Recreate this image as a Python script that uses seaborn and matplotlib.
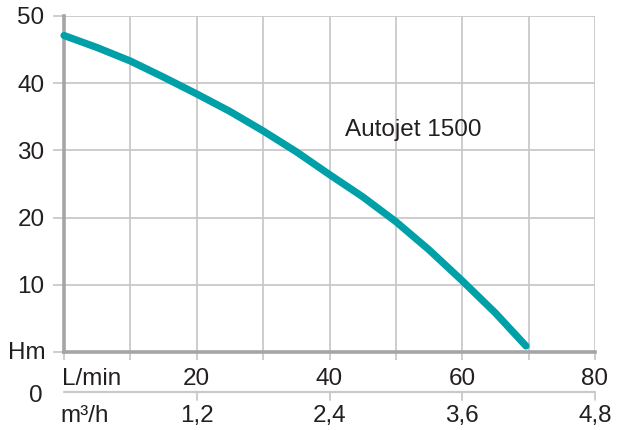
import numpy as np
import pandas as pd
import matplotlib.pyplot as plt
import matplotlib.transforms as mtransforms
import seaborn as sns

# pump curve
flow_lmin = [0, 5, 10, 15, 20, 25, 30, 35, 40, 45, 50, 55, 60, 65, 69.6]
head_m = [47.1, 45.3, 43.3, 40.9, 38.4, 35.8, 32.9, 29.8, 26.4, 23.1, 19.4, 15.2, 10.6, 5.8, 0.9]
x_ticks = [20, 40, 60, 80]
y_ticks = [10, 20, 30, 40, 50]
m3h_ticks = [1.2, 2.4, 3.6, 4.8]
m3h_labels = ["1,2", "2,4", "3,6", "4,8"]
curve_label = "Autojet 1500"

df = pd.DataFrame({"flow": flow_lmin, "head": head_m})

sns.set_theme(style="whitegrid")
plt.rcParams["font.family"] = ["Liberation Sans", "DejaVu Sans"]

text_col = "#231f20"
grid_col = "#c9c9cb"
axis_col = "#a5a5a7"
line_col = "#00a0a9"
fs = 17.5

fig = plt.figure(figsize=(6.27, 4.30), dpi=100)
ax = fig.add_axes([64 / 627, 1 - 352 / 430, (595 - 64) / 627, (352 - 16) / 430])

sns.lineplot(data=df, x="flow", y="head", ax=ax, color=line_col, linewidth=5.2,
             solid_capstyle="round", solid_joinstyle="round", clip_on=False, zorder=5)

ax.set_xlim(0, 80)
ax.set_ylim(0, 50)
ax.set_xticks([0, 10, 20, 30, 40, 50, 60, 70, 80])
ax.set_yticks([0] + y_ticks)
ax.set_xticklabels([])
ax.set_yticklabels([""] + [str(v) for v in y_ticks])
ax.grid(True, color=grid_col, linewidth=1.3)
ax.set_xlabel("")
ax.set_ylabel("")
ax.tick_params(axis="y", length=8, width=1.3, color=grid_col, pad=6,
               labelsize=fs, labelcolor=text_col, left=True)
ax.tick_params(axis="x", length=6, width=1.3, color=grid_col, bottom=True)

for side in ["top", "right"]:
    ax.spines[side].set_visible(False)
for side in ["left", "bottom"]:
    ax.spines[side].set_color(axis_col)
    ax.spines[side].set_linewidth(2.6)

# lower label rows
trans = mtransforms.blended_transform_factory(ax.transData, fig.transFigure)
for xv in x_ticks:
    ax.text(xv, 1 - 379 / 430, str(xv), transform=trans, ha="center", va="center",
            fontsize=fs, color=text_col)
fig.text(62 / 627, 1 - 379 / 430, "L/min", ha="left", va="center", fontsize=fs, color=text_col)
fig.text(60 / 627, 1 - 416 / 430, "m³/h", ha="left", va="center", fontsize=fs, color=text_col)
fig.text(46 / 627, 1 - 353 / 430, "Hm", ha="right", va="center", fontsize=fs, color=text_col)
fig.text(43 / 627, 1 - 396 / 430, "0", ha="right", va="center", fontsize=fs, color=text_col)

# m3/h scale line
ax.plot([0, 80], [1 - 392 / 430] * 2, transform=trans, color=grid_col, linewidth=1.6, clip_on=False)
for xv, lab in zip(m3h_ticks, m3h_labels):
    lmin = xv / 0.06
    ax.plot([lmin, lmin], [1 - 392 / 430, 1 - 400 / 430], transform=trans,
            color=grid_col, linewidth=1.3, clip_on=False)
    ax.text(lmin, 1 - 416 / 430, lab, transform=trans, ha="center", va="center",
            fontsize=fs, color=text_col)

ax.text(42.3, 33.1, curve_label, ha="left", va="center", fontsize=fs, color=text_col)

fig.savefig("out.png", dpi=100)
